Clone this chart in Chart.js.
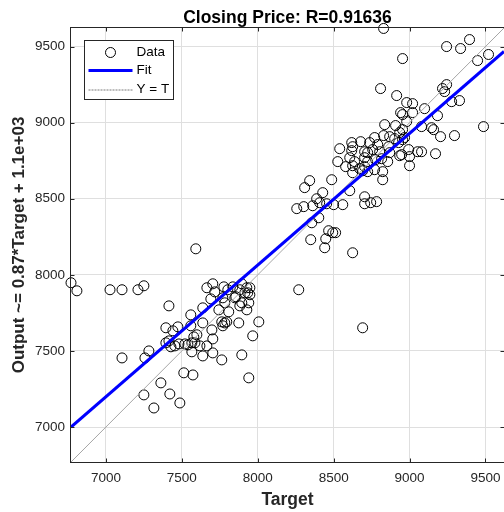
<!DOCTYPE html>
<html>
<head>
<meta charset="utf-8">
<script src="https://cdn.jsdelivr.net/npm/chart.js@4.4.0/dist/chart.umd.min.js"></script>
<style>
  html, body { margin: 0; padding: 0; background: #fff; }
  #wrap { width: 504px; height: 512px; }
</style>
</head>
<body>
<div id="wrap"><canvas id="regplot" width="504" height="512"></canvas></div>
<script>
// values (target, output pairs)
const targetVals = [
  8829, 9244, 9336, 9395, 9448, 9520, 8954, 8809, 9217, 9231, 9244, 8915, 8981, 9020, 9277, 9329,
  8941, 8954, 9020, 9099, 9184, 8981, 8836, 8908, 9079, 9145, 9158, 9487, 9204, 9296, 8954, 8935,
  8770, 8829, 8869, 8902, 8967, 8954, 8678, 8737, 8619, 8625, 8790, 8862, 8928, 8540, 8619, 8704,
  8757, 8803, 8869, 8724, 8994, 8935, 9000, 9053, 9079, 9171, 8948, 8527, 8606, 8638, 8704, 8724,
  8777, 8816, 8856, 9000, 8579, 8625, 8671, 8704, 8724, 8770, 8625, 8691, 8823, 8487, 8342, 8309,
  8606, 8428, 8388, 8408, 8454, 8500, 8560, 8257, 8303, 8362, 8704, 8704, 8744, 8783, 8823, 8356,
  8402, 8467, 8494, 8513, 8349, 8448, 8441, 8625, 8270, 8691,
  7592, 7665, 7704, 7717, 7777, 7803, 7836, 7895, 7928, 7934, 7915, 7882, 7856, 7691, 7770, 7783,
  7849, 7895, 7941, 7882, 7928, 7638, 7744, 7809, 7559, 7638, 7763, 7783, 7770, 7796, 7875, 8007,
  7474, 7441, 7395, 7559, 7698, 7704, 7579, 7599, 7586, 7967, 7395, 7415, 7428, 7454, 7481, 7520,
  7540, 7566, 7619, 7665, 7566, 7638, 7704, 7763, 7895, 7513, 7573, 7941, 7421, 7948, 7948,
  6770, 6809, 7027, 7106, 7211, 7250, 7415, 7283, 7257, 7106, 7362, 7250, 7487, 7316
];
const outputVals = [
  9619, 9500, 9487, 9546, 9408, 9448, 9421, 9224, 9224, 9204, 9250, 9178, 9132, 9125, 9138, 9145,
  9066, 9053, 9066, 9092, 9046, 9007, 8987, 8981, 8974, 8967, 8954, 8974, 8908, 8915, 8954, 8935,
  8902, 8915, 8908, 8895, 8902, 8888, 8875, 8869, 8869, 8842, 8856, 8842, 8869, 8829, 8816, 8809,
  8823, 8809, 8803, 8803, 8823, 8783, 8777, 8809, 8809, 8796, 8790, 8744, 8770, 8744, 8770, 8744,
  8757, 8763, 8744, 8717, 8711, 8717, 8698, 8711, 8678, 8691, 8671, 8684, 8625, 8625, 8619, 8573,
  8553, 8540, 8500, 8474, 8467, 8461, 8461, 8435, 8448, 8454, 8513, 8467, 8474, 8481, 8678, 8342,
  8375, 8290, 8277, 8277, 8231, 8237, 8178, 8145, 7902, 7652,
  8171, 7915, 7941, 7888, 7921, 7902, 7921, 7941, 7915, 7882, 7882, 7902, 7856, 7842, 7849, 7816,
  7849, 7816, 7816, 7796, 7770, 7783, 7770, 7757, 7737, 7684, 7691, 7684, 7665, 7691, 7684, 7691,
  7658, 7632, 7652, 7665, 7638, 7579, 7592, 7606, 7553, 7599, 7553, 7566, 7527, 7533, 7546, 7546,
  7540, 7553, 7533, 7533, 7494, 7467, 7487, 7441, 7474, 7356, 7342, 7323, 7217, 7915, 7869,
  7948, 7895, 7902, 7902, 7902, 7928, 7796, 7500, 7454, 7454, 7290, 7211, 7158, 7125
];

// axes limits and ticks
const axisMin = 6770;
const axisMax = 9622;
const tickVals = [7000, 7500, 8000, 8500, 9000, 9500];
const tickLabels = ['7000', '7500', '8000', '8500', '9000', '9500'];

// fit line end points and the Y = T line
const fitX = [6770, 9622];
const fitY = [7000, 9468];
const identX = [6770, 9622];
const identY = [6770, 9622];

const titleText = 'Closing Price: R=0.91636';
const xLabel = 'Target';
const yLabel = 'Output ~= 0.87*Target + 1.1e+03';
const legendLabels = ['Data', 'Fit', 'Y = T'];

const fam = '"Liberation Sans", Arial, Helvetica, sans-serif';
const axisInk = '#262626';

const boxPlugin = {
    id: 'matlabBox',
    afterDatasetsDraw(chart) {
        const { ctx, chartArea: a, scales } = chart;
        ctx.save();
        ctx.strokeStyle = axisInk;
        ctx.lineWidth = 1;
        const l = Math.round(a.left) - 0.5, t = Math.round(a.top) - 0.5;
        const r = Math.round(a.right) + 0.5, b = Math.round(a.bottom) + 0.5;
        ctx.strokeRect(l, t, r - l, b - t);

        // inward tick marks on all four sides
        ctx.beginPath();
        tickVals.forEach(v => {
            const px = Math.round(scales.x.getPixelForValue(v)) + 0.5;
            ctx.moveTo(px, b); ctx.lineTo(px, b - 4);
            ctx.moveTo(px, t); ctx.lineTo(px, t + 4);
            const py = Math.round(scales.y.getPixelForValue(v)) + 0.5;
            ctx.moveTo(l, py); ctx.lineTo(l + 4, py);
            ctx.moveTo(r, py); ctx.lineTo(r - 4, py);
        });
        ctx.stroke();

        // legend box, top left inside the axes
        const lx = Math.round(a.left) + 13.5, ly = Math.round(a.top) + 12.5;
        const lw = 89, lh = 59;
        ctx.fillStyle = '#fff';
        ctx.fillRect(lx, ly, lw, lh);
        ctx.strokeStyle = axisInk;
        ctx.strokeRect(lx, ly, lw, lh);

        const rowY = [ly + 12, ly + 30, ly + 49];
        const sx0 = lx + 4, sx1 = lx + 48, tx = lx + 52;
        // Data
        ctx.strokeStyle = '#000';
        ctx.beginPath();
        ctx.arc((sx0 + sx1) / 2, rowY[0], 5, 0, Math.PI * 2);
        ctx.stroke();
        // Fit
        ctx.strokeStyle = '#0000ff';
        ctx.lineWidth = 3;
        ctx.beginPath();
        ctx.moveTo(sx0, rowY[1]); ctx.lineTo(sx1, rowY[1]);
        ctx.stroke();
        // Y = T
        ctx.strokeStyle = '#7a7a7a';
        ctx.lineWidth = 1;
        ctx.setLineDash([2, 1]);
        ctx.beginPath();
        ctx.moveTo(sx0, rowY[2] + 0.5); ctx.lineTo(sx1, rowY[2] + 0.5);
        ctx.stroke();
        ctx.setLineDash([]);

        ctx.fillStyle = '#000';
        ctx.font = '13.5px ' + fam;
        ctx.textBaseline = 'middle';
        ctx.textAlign = 'left';
        legendLabels.forEach((txt, i) => ctx.fillText(txt, tx, rowY[i]));
        ctx.restore();
    }
};

function setupChart() {
    const plotCtx = document.getElementById('regplot').getContext('2d');
    new Chart(plotCtx, {
        type: 'scatter',
        data: {
            datasets: [
                {
                    label: legendLabels[0],
                    data: targetVals.map((t, i) => ({ x: t, y: outputVals[i] })),
                    pointRadius: 5,
                    pointBorderWidth: 1,
                    pointBorderColor: '#000',
                    pointBackgroundColor: 'rgba(0,0,0,0)',
                    showLine: false,
                    clip: false,
                    order: 3
                },
                {
                    label: legendLabels[2],
                    data: identX.map((x, i) => ({ x: x, y: identY[i] })),
                    showLine: true,
                    borderColor: '#a6a6a6',
                    borderWidth: 1,
                    pointRadius: 0,
                    order: 2
                },
                {
                    label: legendLabels[1],
                    data: fitX.map((x, i) => ({ x: x, y: fitY[i] })),
                    showLine: true,
                    borderColor: '#0000ff',
                    borderWidth: 3,
                    pointRadius: 0,
                    order: 1
                }
            ]
        },
        options: {
            responsive: false,
            animation: false,
            // no extra room for point overflow, the axes run to the canvas edge
            layout: { padding: 0, autoPadding: false },
            plugins: {
                legend: { display: false },
                tooltip: { enabled: false },
                title: {
                    display: true,
                    fullSize: false,
                    text: titleText,
                    color: '#000',
                    font: { family: fam, size: 17.5, weight: 'bold', lineHeight: 1.1 },
                    padding: { top: 8.5, bottom: 0.25 }
                }
            },
            scales: {
                x: {
                    type: 'linear',
                    min: axisMin,
                    max: axisMax,
                    afterBuildTicks: s => { s.ticks = tickVals.map(v => ({ value: v })); },
                    afterFit: s => { s.height = 50; },
                    grid: { color: '#dfdfdf', drawTicks: true, tickLength: 8, tickColor: 'rgba(0,0,0,0)' },
                    border: { display: false },
                    ticks: {
                        padding: 0, color: axisInk, maxRotation: 0, autoSkip: false,
                        font: { family: fam, size: 13.5 },
                        callback: (v, i) => tickLabels[i]
                    },
                    title: {
                        display: true, text: xLabel, color: axisInk,
                        font: { family: fam, size: 17.5, weight: 'bold' },
                        padding: { top: 0, bottom: 1.5 }
                    }
                },
                y: {
                    type: 'linear',
                    min: axisMin,
                    max: axisMax,
                    afterBuildTicks: s => { s.ticks = tickVals.map(v => ({ value: v })); },
                    afterFit: s => { s.width = 71; },
                    grid: { color: '#dfdfdf', drawTicks: false },
                    border: { display: false },
                    ticks: {
                        padding: 6, color: axisInk, autoSkip: false,
                        font: { family: fam, size: 13.5 },
                        callback: (v, i) => tickLabels[i]
                    },
                    title: {
                        display: true, text: yLabel, color: axisInk,
                        font: { family: fam, size: 17, weight: 'bold' },
                        padding: { top: 9, bottom: 0 }
                    }
                }
            }
        },
        plugins: [boxPlugin]
    });
}

document.addEventListener('DOMContentLoaded', setupChart);
</script>
</body>
</html>
